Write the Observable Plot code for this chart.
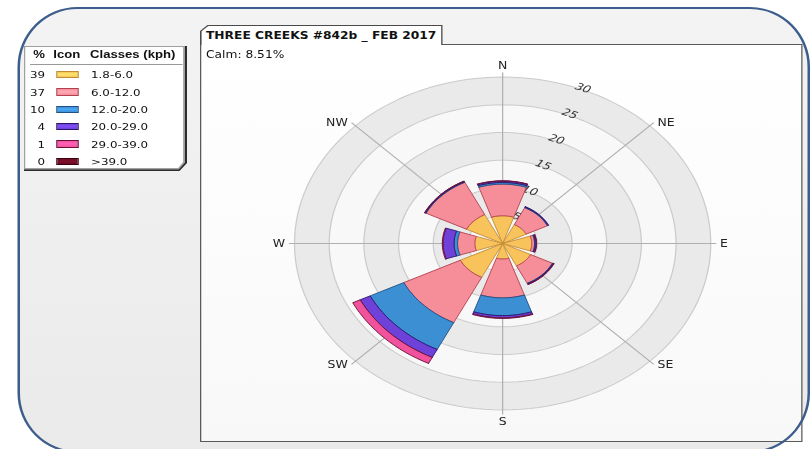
<!DOCTYPE html>
<html>
<head>
<meta charset="utf-8">
<script src="https://cdn.jsdelivr.net/npm/d3@7"></script>
<script src="https://cdn.jsdelivr.net/npm/@observablehq/plot@0.6"></script>
<style>
html,body{margin:0;padding:0;background:#fff;overflow:hidden;width:812px;height:449px;}
#wrap{position:relative;width:650px;height:449px;transform:scaleX(1.25);transform-origin:0 0;font-family:"DejaVu Sans",Verdana,sans-serif;color:#111;}
.frame{position:absolute;left:14.4px;top:7px;width:633.6px;height:446px;border-radius:48px/60px;box-sizing:border-box;}
#frameFill{background:linear-gradient(180deg,#f3f3f3,#eaeaea);z-index:0;}
#frameLine{border:2px solid #3d5d8c;z-index:20;pointer-events:none;}
#panel{position:absolute;left:160px;top:44px;width:481.6px;height:398px;box-sizing:border-box;border:1px solid #5a5a5a;background:linear-gradient(180deg,#fff,#f8f8f8);z-index:1;}
#tabOuter{position:absolute;left:160px;top:25px;width:194.4px;height:20px;background:#4a4a4a;clip-path:polygon(6px 0,100% 0,100% 100%,0 100%,0 6px);z-index:2;}
#tabInner{position:absolute;left:1px;top:1px;right:1px;bottom:0;background:#fff;clip-path:polygon(5.6px 0,100% 0,100% 100%,0 100%,0 5.6px);}
.abs{position:absolute;white-space:nowrap;line-height:1;z-index:3;}
#title{left:164.8px;top:30.7px;font-weight:bold;font-size:9.8px;}
#calm{left:164.8px;top:50.2px;font-size:9.8px;}
#legOuter{position:absolute;left:19.2px;top:46px;width:130.4px;height:125px;background:#2a2a2a;clip-path:polygon(0 0,100% 0,100% calc(100% - 8px),calc(100% - 6px) 100%,0 100%);z-index:2;}
#legMid{position:absolute;left:0;top:0;right:1.5px;bottom:1.5px;background:#a0a0a0;clip-path:polygon(0 0,100% 0,100% calc(100% - 7px),calc(100% - 5px) 100%,0 100%);}
#legInner{position:absolute;left:1px;top:1px;right:1.5px;bottom:1.5px;background:#fff;clip-path:polygon(0 0,100% 0,100% calc(100% - 6px),calc(100% - 4px) 100%,0 100%);}
.hd{font-family:"Liberation Sans",Arial,sans-serif;font-weight:bold;font-size:10.5px;top:49.1px;}
#sep{position:absolute;left:24px;top:64px;width:122.4px;height:1px;background:#999;z-index:3;}
.pct{font-size:9.5px;width:16px;text-align:right;left:20px;}
.lab{font-size:9.5px;left:72.8px;}
.sw{position:absolute;left:44.8px;width:18.7px;height:7.5px;box-sizing:border-box;border:1px solid #222;z-index:3;}
#plot{position:absolute;left:0;top:0;z-index:5;}
</style>
</head>
<body>
<div id="wrap">
  <div id="frameFill" class="frame"></div>
  <div id="panel"></div>
  <div id="tabOuter"><div id="tabInner"></div></div>
  <div id="title" class="abs"></div>
  <div id="calm" class="abs"></div>
  <div id="legOuter"><div id="legMid"><div id="legInner"></div></div></div>
  <div class="abs hd" style="left:26.7px">%</div>
  <div class="abs hd" style="left:42.7px">Icon</div>
  <div class="abs hd" style="left:72px">Classes (kph)</div>
  <div id="sep"></div>
  <div id="legend"></div>
  <div id="plot"></div>
  <div id="frameLine" class="frame"></div>
</div>
<script>
// ---------- data ----------
const title = "THREE CREEKS #842b _ FEB 2017";
const calm = 8.51;
const directions = ["N","NE","E","SE","S","SW","W","NW"];
const bearings = [0,45,90,135,180,225,270,315];
const classes = ["1.8-6.0","6.0-12.0","12.0-20.0","20.0-29.0","29.0-39.0",">39.0"];
const classPercent = [39,37,10,4,1,0];
// frequency (%) per direction for each speed class
const s1 = [5.0,3.8,4.2,4.5,2.8,6.8,4.0,5.8];
const s2 = [5.7,3.4,0.4,3.5,7.0,9.1,2.5,6.5];
const s3 = [0.3,0.1,0.1,0.1,3.2,5.4,0.5,0.1];
const s4 = [0.25,0.1,0.15,0.1,0.4,1.6,1.6,0.1];
const s5 = [0.05,0,0.05,0.05,0.1,1.2,0.1,0.05];
const s6 = [0,0,0,0,0,0,0,0];
const ringTicks = [5,10,15,20,25,30];
// ---------- styles ----------
const palette = ["#f8c35a","#f58e99","#3d8fd3","#6e42d8","#f0529b","#6b0d24"];
const strokes = ["#c48a35","#b3404f","#1f4f85","#2c136e","#6a1038","#3a0010"];

document.getElementById("title").textContent = title;
document.getElementById("calm").textContent = "Calm: " + calm.toFixed(2) + "%";

const leg = document.getElementById("legend");
classes.forEach((c, i) => {
  const base = 78.3 + i * 17.34;
  const p = document.createElement("div");
  p.className = "abs pct"; p.style.top = (base - 8.04) + "px"; p.textContent = classPercent[i];
  const s = document.createElement("div");
  s.className = "sw"; s.style.top = (base - 7.4) + "px";
  s.style.background = `linear-gradient(180deg, ${palette[i]} 0%, ${d3.color(palette[i]).brighter(0.5)} 45%, ${palette[i]} 100%)`;
  s.style.borderColor = strokes[i];
  const l = document.createElement("div");
  l.className = "abs lab"; l.style.top = (base - 8.04) + "px"; l.textContent = c;
  leg.append(p, s, l);
});

// ---------- geometry ----------
const R = 35, half = 18.7, deg = Math.PI / 180;
const polar = (r, b) => [r * Math.sin(b * deg), r * Math.cos(b * deg)];
const series = [s1, s2, s3, s4, s5, s6];

const ringRows = [];
ringTicks.slice().reverse().forEach((t, j) => {
  const fill = j % 2 === 0 ? "#eaeaea" : "#f8f8f8";
  for (let i = 0; i <= 144; i++) {
    const [x, y] = polar(t, i * 2.5);
    ringRows.push({id: "r" + t, x, y, fill});
  }
});

const segRows = [];
directions.forEach((dir, d) => {
  let c = 0;
  series.forEach((vals, k) => {
    const v = vals[d];
    if (v > 0) {
      const r0 = c, r1 = c + v, b = bearings[d], n = 16;
      const pts = [];
      for (let i = 0; i <= n; i++) pts.push(polar(r1, b - half + 2 * half * i / n));
      if (r0 > 0) for (let i = n; i >= 0; i--) pts.push(polar(r0, b - half + 2 * half * i / n));
      else pts.push([0, 0]);
      pts.push(pts[0]);
      pts.forEach(([x, y]) => segRows.push({id: dir + "-" + k, x, y, fill: palette[k], stroke: strokes[k]}));
    }
    c += v;
  });
});

const lineEnd = 30.8;
const dirs = directions.map((d, i) => ({d, b: bearings[i]}));
const endX = o => polar(lineEnd, o.b)[0], endY = o => polar(lineEnd, o.b)[1];

const chart = Plot.plot({
  width: 650, height: 449,
  marginLeft: 207.35, marginRight: 54.15, marginTop: 48.75, marginBottom: 11.75,
  x: {domain: [-R, R], axis: null},
  y: {domain: [-R, R], axis: null},
  color: {type: "identity"},
  style: {background: "transparent", overflow: "visible", fontFamily: "'DejaVu Sans', Verdana, sans-serif"},
  marks: [
    Plot.line(ringRows, {x: "x", y: "y", z: "id", fill: "fill", stroke: "#cbcbcb", strokeWidth: 1}),
    Plot.link(dirs, {x1: () => 0, y1: () => 0, x2: endX, y2: endY, stroke: "#b0b0b0", strokeWidth: 1}),
    Plot.text(ringTicks, {x: t => polar(t + 0.3, 22.5)[0], y: t => polar(t + 0.3, 22.5)[1], text: t => String(t),
      rotate: 22.5, fontStyle: "italic", fontSize: 10, fill: "#333"}),
    Plot.text(dirs.filter(o => o.b === 0), {x: endX, y: endY, text: "d", dy: -7, fontSize: 10, fill: "#222"}),
    Plot.text(dirs.filter(o => o.b === 180), {x: endX, y: endY, text: "d", dy: 7, fontSize: 10, fill: "#222"}),
    Plot.text(dirs.filter(o => o.b > 0 && o.b < 180), {x: endX, y: endY, text: "d", dx: 3, textAnchor: "start", fontSize: 10, fill: "#222"}),
    Plot.text(dirs.filter(o => o.b > 180), {x: endX, y: endY, text: "d", dx: -3, textAnchor: "end", fontSize: 10, fill: "#222"}),
    Plot.line(segRows, {x: "x", y: "y", z: "id", fill: "fill", stroke: "stroke", strokeWidth: 0.8, strokeLinejoin: "miter"})
  ]
});
document.getElementById("plot").append(chart);
</script>
</body>
</html>
